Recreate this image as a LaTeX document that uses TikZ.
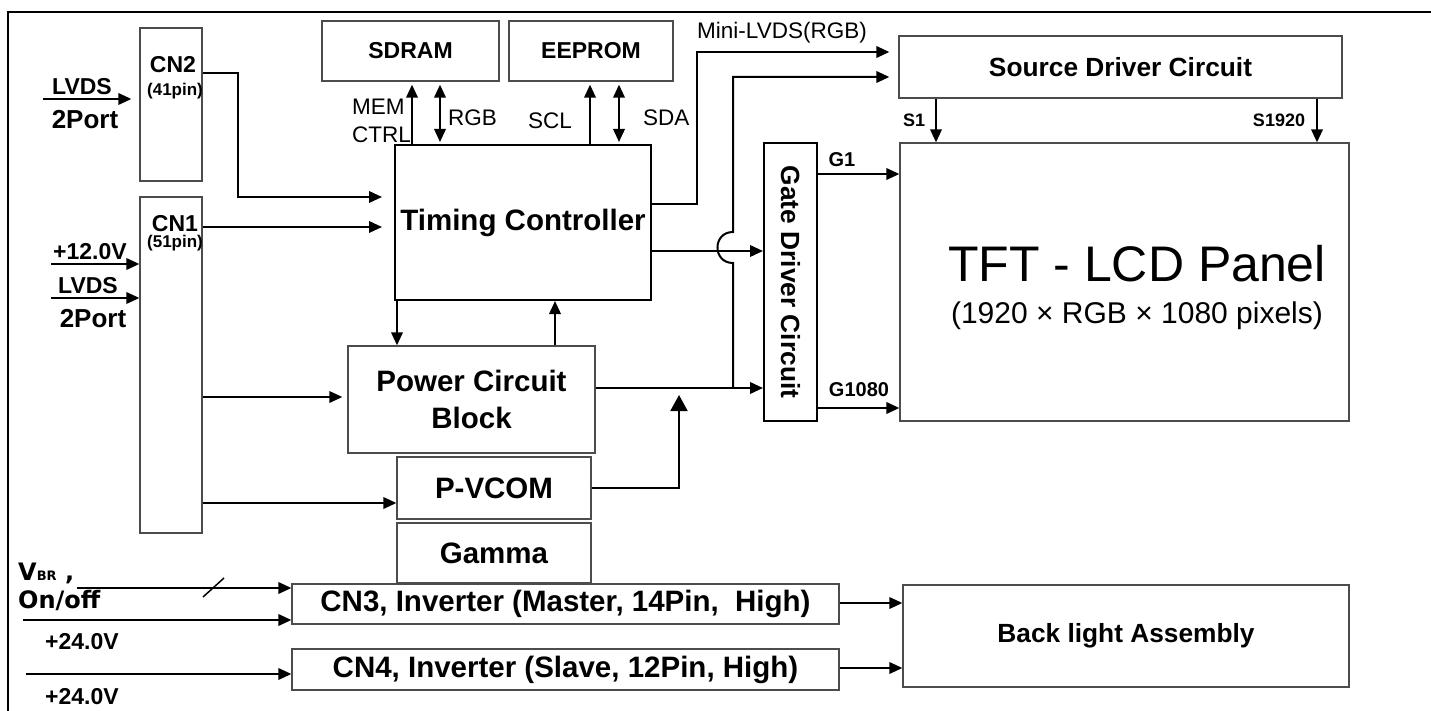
\documentclass[tikz,border=0pt]{standalone}
\usepackage{fontspec}
\setmainfont{Liberation Sans}
\newfontfamily\dejavu{DejaVu Sans}
\usetikzlibrary{arrows.meta,calc}

\begin{document}
\begin{tikzpicture}[
  x=1pt, y=-1pt,
  >={Triangle[length=13pt,width=11.5pt]},
  blkbox/.style={draw=black!70, line width=1.3pt, inner sep=0pt},
  ctlbox/.style={draw=black, line width=2pt, inner sep=0pt},
  sig/.style={->, line width=2pt},
  bisig/.style={<->, line width=2pt},
  bigsig/.style={-{Triangle[length=16pt,width=17pt]}, line width=2pt},
  hdfont/.style={font=\fontsize{29.5}{37}\selectfont\bfseries},
  midfont/.style={font=\fontsize{26.3}{30}\selectfont\bfseries},
  memfont/.style={font=\fontsize{23}{27}\selectfont\bfseries},
  pinfont/.style={font=\fontsize{23}{27}\selectfont\bfseries, inner sep=0pt},
  portfont/.style={font=\fontsize{26}{30}\selectfont\bfseries, inner sep=0pt},
  sigfont/.style={font=\fontsize{22.5}{28}\selectfont, inner sep=0pt},
  tinyfont/.style={font=\fontsize{17}{20}\selectfont\bfseries, inner sep=0pt},
  sfont/.style={font=\fontsize{18}{21}\selectfont\bfseries, inner sep=0pt},
  gfont/.style={font=\fontsize{20}{23}\selectfont\bfseries, inner sep=0pt},
  vfont/.style={font=\dejavu\fontsize{24}{28}\selectfont\bfseries, inner sep=0pt}
]
  \useasboundingbox (0,0) rectangle (1431,711);
  \draw[line width=2pt] (8,711) -- (8,12) -- (1431,12);

  \node[blkbox, minimum width=62pt, minimum height=153pt] (cn2) at (171,104.5) {};
  \node[blkbox, minimum width=62pt, minimum height=336pt] (cn1) at (171,365) {};
  \node[blkbox, memfont, minimum width=177pt, minimum height=60pt] (sdram) at (410.5,51) {SDRAM};
  \node[blkbox, memfont, minimum width=164pt, minimum height=60pt] (eeprom) at (591,51) {EEPROM};
  \node[ctlbox, hdfont, minimum width=256pt, minimum height=155pt] (tc) at (523,222.5) {Timing Controller};
  \node[blkbox, midfont, minimum width=443pt, minimum height=62pt] (sd) at (1120.5,67) {Source Driver Circuit};
  \node[ctlbox, minimum width=53pt, minimum height=278pt] (gate) at (790.5,282) {};
  \node[midfont, rotate=-90] (gatet) at (gate.center) {Gate Driver Circuit};
  \node[blkbox, minimum width=449pt, minimum height=278pt] (tft) at (1124.5,282) {};
  \node[font=\fontsize{50}{56}\selectfont] (tftt) at (1137,264) {TFT - LCD Panel};
  \node[font=\fontsize{30}{34}\selectfont] (tfts) at (1137,316) {(1920 × RGB × 1080 pixels)};
  \node[blkbox, hdfont, align=center, minimum width=247pt, minimum height=107pt] (pcb) at (471.5,399.5) {Power Circuit\\Block};
  \node[blkbox, hdfont, minimum width=194pt, minimum height=62pt] (pvcom) at (494,488) {P-VCOM};
  \node[blkbox, hdfont, minimum width=194pt, minimum height=60pt] (gamma) at (494,553) {Gamma};
  \node[blkbox, hdfont, minimum width=547pt, minimum height=40pt] (cn3) at (565.5,604) {CN3, Inverter (Master, 14Pin, \ High)};
  \node[blkbox, hdfont, minimum width=547pt, minimum height=41pt] (cn4) at (565.5,669.5) {CN4, Inverter (Slave, 12Pin, High)};
  \node[blkbox, midfont, minimum width=446pt, minimum height=102pt] (bl) at (1126,636) {Back light Assembly};

  \node[pinfont] (lvdsa) at (82,87) {LVDS};
  \node[portfont] (porta) at (85,120) {2Port};
  \node[pinfont] (v12) at (90,252) {+12.0V};
  \node[pinfont] (lvdsb) at (88,286) {LVDS};
  \node[portfont] (portb) at (93,319) {2Port};
  \node[pinfont] (cn2t) at (173,65) {CN2};
  \node[tinyfont] (cn2p) at (175,91) {(41pin)};
  \node[pinfont] (cn1t) at (175,224) {CN1};
  \node[tinyfont] (cn1p) at (175,243) {(51pin)};
  \node[sigfont, align=left, anchor=west] (memctrl) at (352,121) {MEM\\CTRL};
  \node[sigfont, anchor=west] (rgb) at (448,118) {RGB};
  \node[sigfont] (scl) at (550,121) {SCL};
  \node[sigfont, anchor=west] (sda) at (643,118) {SDA};
  \node[sigfont, anchor=west] (minilvds) at (697,33) {Mini-LVDS(RGB)};
  \node[sfont] (s1) at (914,120) {S1};
  \node[sfont] (s1920) at (1279,120) {S1920};
  \node[gfont] (g1) at (842,160) {G1};
  \node[gfont] (g1080) at (859,390) {G1080};
  \node[vfont, anchor=west] (vbr) at (18,573) {V{\fontsize{13}{13}\selectfont BR} ,};
  \node[vfont, anchor=west] (onoff) at (18,600) {On/off};
  \node[pinfont] (v24a) at (82,642) {+24.0V};
  \node[pinfont] (v24b) at (82,697) {+24.0V};

  \coordinate (inA) at (43,99);
  \coordinate (inB) at (51,264);
  \coordinate (inC) at (51,298);
  \draw[sig, shorten >=8pt] (inA) -- (cn2.west |- inA);
  \draw[sig] (inB) -- (cn1.west |- inB);
  \draw[sig] (inC) -- (cn1.west |- inC);

  \draw[sig, shorten >=12pt] (cn2.east |- 0,73) -| (238,197) -- (tc.west |- 0,197);
  \draw[sig, shorten >=12pt] (cn1.east |- 0,227) -- (tc.west |- 0,227);
  \draw[sig, shorten >=5pt] (cn1.east |- 0,397) -- (pcb.west |- 0,397);
  \draw[sig] (cn1.east |- 0,503) -- (pvcom.west |- 0,503);

  \draw[sig, shorten >=3pt] (tc.north -| 412,0) -- (sdram.south -| 412,0);
  \draw[bisig, shorten >=3pt, shorten <=2pt] (tc.north -| 440,0) -- (sdram.south -| 440,0);
  \draw[sig, shorten >=3pt] (tc.north -| 590,0) -- (eeprom.south -| 590,0);
  \draw[bisig, shorten >=3pt, shorten <=2pt] (tc.north -| 619,0) -- (eeprom.south -| 619,0);

  \draw[sig, shorten >=9pt] (tc.east |- 0,204) -| (697,52) -- (sd.west |- 0,52);
  \coordinate (hop) at (733,388);
  \draw[sig, shorten >=9pt] (hop) -- (733,263) .. controls (712.3,263) and (712.3,232) .. (733,232) -- (733,77) -- (sd.west |- 0,77);
  \draw[sig] (tc.east |- 0,251) -- (gate.west |- 0,251);
  \draw[sig] (pcb.east |- 0,388) -- (gate.west |- 0,388);
  \coordinate (vcomin) at (679,395);
  \draw[bigsig] (pvcom.east |- 0,488) -| (vcomin);

  \draw[sig] (tc.south -| 397,0) -- (pcb.north -| 397,0);
  \draw[sig] (pcb.north -| 555,0) -- (tc.south -| 555,0);

  \draw[sig] (gate.east |- 0,174) -- (tft.west |- 0,174);
  \draw[sig] (gate.east |- 0,408) -- (tft.west |- 0,408);
  \draw[sig] (sd.south -| 936,0) -- (tft.north -| 936,0);
  \draw[sig] (sd.south -| 1317,0) -- (tft.north -| 1317,0);

  \coordinate (inD) at (77,588);
  \coordinate (inE) at (23,620);
  \coordinate (inF) at (26,674);
  \draw[sig] (inD) -- (cn3.west |- inD);
  \draw[line width=1.5pt] (203,597) -- (224,578);
  \draw[sig] (inE) -- (cn3.west |- inE);
  \draw[sig] (inF) -- (cn4.west |- inF);
  \draw[sig] (cn3.east |- 0,603) -- (bl.west |- 0,603);
  \draw[sig] (cn4.east |- 0,668) -- (bl.west |- 0,668);
\end{tikzpicture}
\end{document}
